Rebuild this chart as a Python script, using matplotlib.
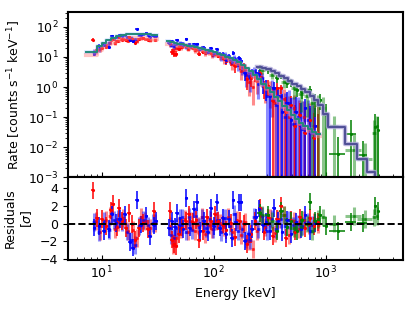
import matplotlib
matplotlib.use("Agg")
import matplotlib.pyplot as plt
import numpy as np

# ---- NaI detector, red (solid)
red_e = [8.3, 9.1, 10.0, 11.0, 12.0, 12.6, 13.6, 14.3, 15.2, 16.5, 17.5, 18.6, 20.0, 21.5, 23.5, 25.8, 29.0,
         40.5, 42.5, 44.5, 46.5, 49, 52, 56, 60, 65, 70, 74, 80, 87, 94, 102, 110, 120, 130, 142, 155,
         170, 185, 198, 215, 235, 258, 280, 305, 335, 365, 400, 440, 485, 530, 590, 650, 720, 790, 850]
red_rate = [38, 17, 20, 22, 37, 40, 33, 45, 38, 36, 46, 40, 30, 40, 42, 38, 52,
            30, 15, 13, 13, 19, 22, 24, 23, 20, 19, 13, 15, 16, 14, 13, 11, 10, 7.5, 7.0, 5.0,
            5.5, 4.8, 1.8, 2.0, 2.5, 3.0, 1.0, 1.1, 0.35, 0.9, 0.9, 0.15, 0.25, 0.05, 0.12, 0.03, 0.08, 0.02, 0.03]
red_err = [5, 3, 3, 3.5, 4, 4, 4, 4, 4, 4, 4, 4, 4, 4, 4, 4, 4,
           3, 3, 3, 3, 3, 3, 3, 3, 2.5, 2.5, 2.5, 2.5, 2.5, 2.5, 2.5, 2, 2, 2, 2, 2,
           1.8, 1.6, 1.0, 1.0, 1.0, 0.8, 0.6, 0.6, 0.5, 0.5, 0.3, 0.3, 0.25, 0.2, 0.18, 0.15, 0.12, 0.12, 0.1]
red_res = [3.75, 0.67, 0.5, -0.3, 1.5, 2.2, -0.4, 1.8, 0.3, -0.5, 1.2, -0.07, -1.8, -0.5, 0.1, -0.6, 1.4,
           1.4, -1.8, -2.3, -2.5, -1.2, -0.45, 0.3, 1.05, 0.2, 0.4, -1.8, -0.8, 0.7, 0.3, 1.05, 0.3, -0.1, -0.7, 0.1, -1.5,
           0.3, -0.05, -2.3, -1.2, 0.3, 1.8, -0.9, 0.7, -1.4, 0.5, 2.0, -1.6, 0.4, -0.9, 0.7, -0.5, 0.6, -0.3, 0.2]

# ---- NaI detector, light red
pink_e = [8.8, 9.6, 10.8, 11.8, 13.0, 14.0, 15.5, 17.0, 18.9, 20.5, 22.5, 24.5, 27.0, 30.0,
          41, 43.5, 46, 48.5, 51.5, 55, 59, 63, 68, 73, 78, 84, 90, 97, 105, 114, 124, 135, 147, 160,
          175, 190, 206, 222, 242, 265, 290, 318, 350, 385, 425, 470, 520, 575, 640, 710, 790, 860]
pink_rate = [16, 18, 25, 30, 29, 35, 39, 35, 37, 33, 42, 40, 36, 38,
             26, 17, 20, 24, 21, 25, 19, 22, 17, 18, 20, 14, 15, 12, 12.5, 10.5, 8.5, 9.5, 6.0, 6.5,
             3.5, 4.0, 1.5, 1.0, 1.6, 2.2, 1.0, 0.9, 0.3, 0.5, 0.4, 0.1, 0.2, 0.06, 0.1, 0.04, 0.05, 0.03]
pink_err = [3, 3, 4, 4, 4, 4, 4, 4, 4, 4, 4, 4, 4, 4,
            4, 4, 4, 3.5, 3.5, 3.5, 3.5, 3, 3, 3, 3, 3, 3, 3, 2.5, 2.5, 2.5, 2.5, 2.2, 2.0,
            1.8, 1.8, 1.0, 0.75, 1.0, 0.9, 0.7, 0.7, 0.6, 0.5, 0.45, 0.4, 0.35, 0.3, 0.25, 0.25, 0.2, 0.2]
pink_res = [0.3, -0.9, 0.4, 0.9, -0.6, 0.2, 0.6, -0.8, -0.7, -1.6, 0.8, 0.3, -0.5, 0.1,
            -0.3, -2.4, -1.6, -0.3, -0.6, 0.5, -0.9, 0.3, -0.8, -0.2, 0.8, -1.2, -0.2, -0.6, 0.3, 0.1, -0.4, 0.8, -0.9, 0.4,
            -1.3, 0.2, -2.0, -2.9, -0.8, 0.9, -0.4, 0.6, -1.1, 0.5, 1.0, -1.3, 0.3, -0.6, 0.4, -0.2, 0.2, -0.1]

# ---- NaI detector, blue (solid)
blue_e = [8.6, 9.5, 10.5, 11.5, 12.3, 13.5, 14.5, 16.0, 17.8, 19.0, 20.7, 22.5, 25.0, 26.8, 29.0, 30.5,
          40, 42, 45, 47, 50, 53, 57, 61, 66, 71, 76, 82, 88, 94, 100, 106, 113, 120, 128, 136, 145, 150,
          158, 168, 177, 190, 205, 220, 238, 255, 275, 295, 320, 345, 375, 410, 450, 495, 545, 600, 660, 730, 800]
blue_rate = [13, 24, 25, 22, 50, 45, 55, 55, 36, 33, 82, 55, 62, 47, 50, 48,
             30, 33, 28, 36, 27, 25, 40, 23, 27, 26, 18, 20, 15, 20, 14, 18, 12.5, 13, 8, 11, 7, 14,
             7.5, 9.0, 7.5, 3.0, 3.0, 3.0, 3.0, 2.8, 1.3, 1.0, 0.5, 0.9, 0.5, 0.15, 0.3, 0.08, 0.15, 0.05, 0.2, 0.03, 0.05]
blue_err = [2.5, 3, 3, 3.5, 4, 4, 4, 4, 4, 4, 5, 4, 4, 4, 4, 4,
            3, 3, 3, 3, 3, 3, 3, 2.5, 2.5, 2.5, 2.5, 2.5, 2, 2, 2, 2, 2, 2, 2, 2, 1.8, 2.0,
            1.8, 1.6, 1.5, 1.4, 1.2, 1.0, 0.9, 0.8, 0.7, 0.65, 0.6, 0.55, 0.5, 0.45, 0.4, 0.35, 0.3, 0.25, 0.2, 0.2, 0.15]
blue_res = [-0.45, -0.3, -0.8, -0.6, 1.05, 0.1, 0.5, 1.05, -2.1, -2.7, 2.7, -0.1, 0.85, -1.4, -0.2, 0.3,
            -0.45, 0.3, -0.4, 1.2, -0.2, -0.6, 2.9, -0.45, 1.6, 2.4, -0.8, 0.3, -1.0, 1.8, -0.3, 2.4, -0.45, 0.6, -1.2, 0.5, -1.6, 2.7,
            0.2, 2.4, 2.4, -2.0, -1.2, -0.6, 0.7, 1.7, -0.1, 0.2, -0.8, 1.8, 0.3, -1.0, 0.4, -1.2, 0.2, -0.6, 1.0, -0.8, 0.1]

# ---- NaI detector, light blue
lblue_e = [8.5, 9.4, 10.5, 11.6, 12.8, 14.0, 15.3, 16.8, 18.3, 19.8, 21.5, 23.5, 26.0, 28.5,
           41.5, 44, 46.5, 49.5, 52.5, 56, 60, 64, 69, 74, 79, 86, 92, 99, 108, 117, 126, 140, 152,
           165, 180, 195, 212, 230, 250, 272, 300, 330, 360, 395, 430, 470, 515, 565, 620, 690, 760]
lblue_rate = [15, 18, 28, 30, 40, 46, 50, 45, 44, 40, 52, 58, 54, 55,
              25, 23, 27, 30, 29, 22, 26, 21, 24, 19, 21, 16, 17, 13, 14, 10, 12, 8, 9.5,
              5.5, 4.5, 2.5, 2.0, 3.3, 1.3, 2.0, 0.5, 0.9, 0.25, 0.5, 0.1, 0.3, 0.06, 0.1, 0.04, 0.08, 0.03]
lblue_err = [3, 3, 4, 4, 4, 4, 4, 4, 4, 4, 4, 4, 4, 4,
             4, 4, 4, 4, 3.5, 3.5, 3.5, 3, 3, 3, 3, 3, 3, 3, 2.5, 2.5, 2.5, 2.3, 2.2,
             2.0, 1.9, 1.5, 1.3, 1.3, 0.9, 1.0, 0.9, 0.8, 0.7, 0.6, 0.55, 0.5, 0.4, 0.35, 0.3, 0.3, 0.25]
lblue_res = [0.2, -1.0, 0.3, -0.7, 0.4, 0.5, 0.2, -0.9, -1.9, -2.4, -0.3, 0.4, -0.2, 0.1,
             -1.3, -1.6, -0.5, 0.6, 0.7, -0.9, 0.8, -0.7, 0.9, -0.4, 0.7, -0.5, 0.5, -0.6, 0.4, -1.0, 0.6, -0.3, 1.1,
             -0.8, -0.6, -1.8, -1.9, 0.8, -0.6, 0.9, -0.8, 0.5, -0.6, 0.5, -0.3, 0.4, -0.2, 0.0, -0.3, 0.2, -0.1]

# ---- BGO detector, green (solid)
bgo0_e = [258, 305, 367, 400, 450, 490, 550, 620, 720, 800, 890, 1000, 1290, 1700, 2140, 2780, 2960]
bgo0_lo = [245, 290, 350, 385, 430, 470, 525, 590, 690, 765, 850, 950, 1070, 1500, 1900, 2700, 2900]
bgo0_hi = [270, 320, 385, 420, 470, 510, 575, 650, 750, 840, 930, 1050, 1480, 1880, 2340, 2860, 3020]
bgo0_rate = [4.3, 3.6, 2.0, 2.3, 1.4, 1.4, 0.8, 0.7, 0.8, 0.35, 0.37, 0.12, 0.006, 0.027, 0.0055, 0.047, 0.037]
bgo0_err = [0.9, 0.8, 0.6, 0.5, 0.45, 0.4, 0.35, 0.3, 0.3, 0.25, 0.2, 0.15, 0.016, 0.05, 0.01, 0.08, 0.06]
bgo0_res = [1.2, 1.0, -0.8, 1.4, -0.4, 0.3, -0.8, 0.4, 2.5, 0.3, 1.0, -0.3, -0.8, 0.2, 0.1, 2.0, 1.4]

# ---- BGO detector, light green
bgo1_e = [270, 330, 420, 520, 600, 680, 760, 850, 950, 1180, 1780, 2250, 2700, 2870]
bgo1_lo = [255, 310, 395, 490, 565, 640, 720, 805, 900, 1070, 1500, 1900, 2600, 2800]
bgo1_hi = [285, 350, 445, 550, 635, 720, 800, 895, 1000, 1300, 2060, 2600, 2800, 2950]
bgo1_rate = [3.8, 2.6, 1.5, 0.9, 0.6, 0.5, 0.3, 0.25, 0.2, 0.05, 0.008, 0.004, 0.03, 0.05]
bgo1_err = [1.0, 0.8, 0.6, 0.5, 0.45, 0.4, 0.35, 0.3, 0.25, 0.06, 0.02, 0.01, 0.05, 0.06]
bgo1_res = [1.0, 0.3, 1.0, -0.5, -0.4, 0.0, -0.8, 0.5, 0.7, 0.0, 0.85, 0.5, 0.7, 0.9]

# ---- folded models (step lines), NaI low band / high band and BGO
nai_edges_lo = [7.2, 9.0, 10.0, 11.0, 12.1, 13.4, 14.8, 16.3, 18.0, 20.0, 22.2, 24.6, 27.3, 31.0]
nai_model_lo = [15, 24, 30, 36, 44, 50, 54, 58, 60, 60, 59, 57, 54]
nai_model_lo_red = [12, 17, 22, 27, 32, 36, 39, 42, 43, 43, 42, 41, 39]
nai_edges_hi = [38.5, 41, 44, 47, 50, 54, 58, 62.5, 67, 72, 78, 84, 91, 98, 106, 115, 125, 136, 148, 161,
                175, 190, 207, 225, 245, 267, 291, 317, 345, 376, 410, 447, 487, 531, 579, 631, 688, 750, 818, 892]
nai_model_hi = [33, 31, 30, 28, 27, 25.5, 24, 23, 21.5, 20, 19, 17.5, 16, 14.5, 13, 11.5, 10.2, 9.0, 7.8, 6.6,
                5.4, 4.3, 3.3, 2.5, 1.8, 1.3, 0.95, 0.68, 0.48, 0.34, 0.24, 0.17, 0.12, 0.085, 0.065, 0.05, 0.04, 0.033, 0.028]
nai_model_hi_red = [28, 27, 26, 24, 23, 22, 21, 20, 18.5, 17.5, 16.5, 15, 14, 12.5, 11.2, 10, 8.9, 7.8, 6.8, 5.8,
                    4.7, 3.8, 2.9, 2.2, 1.6, 1.15, 0.85, 0.6, 0.43, 0.3, 0.21, 0.15, 0.105, 0.075, 0.057, 0.044, 0.035, 0.029, 0.024]
bgo_edges = [245, 270, 295, 322, 352, 385, 420, 460, 503, 550, 600, 656, 717, 784, 857, 937, 1050, 1480, 1900, 2340, 2770, 3200]
bgo_model = [4.6, 4.3, 3.9, 3.4, 2.9, 2.4, 2.0, 1.6, 1.3, 1.05, 0.85, 0.66, 0.5, 0.37, 0.26, 0.13, 0.047, 0.013, 0.004, 0.0015, 0.0008]


def draw_detector(ax, axr, e, rate, err, res, color, alpha, lw, lo=None, hi=None):
    e = np.array(e)
    if lo is None:
        xerr = [e * 0.035, e * 0.035]
    else:
        xerr = [e - np.array(lo), np.array(hi) - e]
    ax.errorbar(e, rate, yerr=err, xerr=xerr, fmt='.', color=color, alpha=alpha,
                ms=2.5, elinewidth=lw, capsize=0)
    axr.errorbar(e, res, yerr=np.ones(len(e)), xerr=xerr, fmt='.', color=color, alpha=alpha,
                 ms=2.5, elinewidth=lw, capsize=0)


def draw_model(ax, edges, vals, color, lw, alpha=1.0):
    ax.step(edges, list(vals) + [vals[-1]], where='post', color=color, lw=lw, alpha=alpha, zorder=5)


if __name__ == "__main__":
    plt.rcParams['font.size'] = 9
    fig = plt.figure(figsize=(4.15, 3.12), dpi=100)
    gs = fig.add_gridspec(2, 1, height_ratios=[2, 1], hspace=0)
    ax = fig.add_subplot(gs[0])
    axr = fig.add_subplot(gs[1], sharex=ax)
    fig.subplots_adjust(left=0.164, right=0.971, top=0.962, bottom=0.167)

    draw_detector(ax, axr, pink_e, pink_rate, pink_err, pink_res, 'red', 0.45, 2.2)
    draw_detector(ax, axr, lblue_e, lblue_rate, lblue_err, lblue_res, 'blue', 0.45, 2.2)
    draw_detector(ax, axr, red_e, red_rate, red_err, red_res, 'red', 1.0, 1.1)
    draw_detector(ax, axr, blue_e, blue_rate, blue_err, blue_res, 'blue', 1.0, 1.1)
    draw_detector(ax, axr, bgo1_e, bgo1_rate, bgo1_err, bgo1_res, 'green', 0.45, 2.2, bgo1_lo, bgo1_hi)
    draw_detector(ax, axr, bgo0_e, bgo0_rate, bgo0_err, bgo0_res, 'green', 1.0, 1.1, bgo0_lo, bgo0_hi)

    # models
    for edges, vals in [(nai_edges_lo, nai_model_lo_red), (nai_edges_hi, nai_model_hi_red)]:
        draw_model(ax, edges, vals, '#ff8080', 3, 0.45)
    for edges, vals in [(nai_edges_lo, nai_model_lo), (nai_edges_hi, nai_model_hi)]:
        draw_model(ax, edges, vals, '#7fa8ff', 2.6, 0.3)
        draw_model(ax, edges, vals, '#22897a', 1.4)
    draw_model(ax, bgo_edges, bgo_model, '#a9a2d6', 3.2, 0.8)
    draw_model(ax, bgo_edges, bgo_model, '#4f4f96', 1.4)

    ax.set_xscale('log')
    ax.set_yscale('log')
    ax.set_xlim(5, 4900)
    ax.set_ylim(1e-3, 316)
    ax.set_ylabel(r'Rate [counts s$^{-1}$ keV$^{-1}$]')
    ax.tick_params(axis='x', which='both', direction='in', labelbottom=False)

    axr.axhline(0, color='black', ls='--', lw=1.4, zorder=6)
    axr.set_ylim(-4.1, 5.25)
    axr.set_yticks([-4, -2, 0, 2, 4])
    axr.set_xlabel('Energy [keV]')
    axr.set_ylabel('Residuals\n' + r'[$\sigma$]')
    axr.tick_params(axis='x', which='both', direction='in')

    for a in (ax, axr):
        for s in a.spines.values():
            s.set_linewidth(1.5)

    fig.savefig('out.png', dpi=100)
